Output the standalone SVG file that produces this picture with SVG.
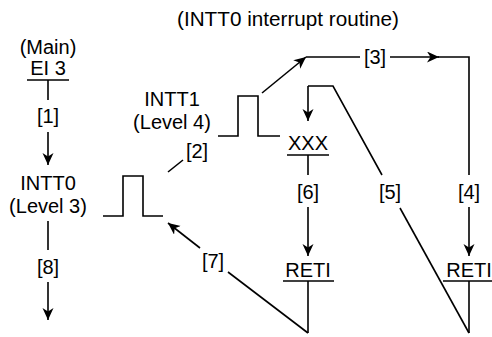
<svg xmlns="http://www.w3.org/2000/svg" width="492" height="337" viewBox="0 0 492 337">
<style>
  text { font-family: "Liberation Sans", Arial, sans-serif; font-size: 20px; fill: #000; text-anchor: middle; }
  .ttl { font-size: 20.7px; }
  .ln { stroke: #000; stroke-width: 1.6; fill: none; }
</style>
<defs>
  <marker id="arr" markerUnits="userSpaceOnUse" markerWidth="13" markerHeight="12" refX="12" refY="5.5" orient="auto" viewBox="0 0 13 12">
    <path d="M0,0 L12,5.5 L0,11 L3.5,5.5 z" fill="#000"/>
  </marker>
</defs>
<rect width="492" height="337" fill="#fff"/>

<g id="title"><text class="ttl" x="288" y="26">(INTT0 interrupt routine)</text></g>

<g id="main">
  <text x="48" y="54">(Main)</text>
  <text x="48" y="75">EI 3</text>
  <line class="ln" x1="27" y1="80" x2="69" y2="80"/>
</g>

<g id="intt0">
  <text x="48" y="190">INTT0</text>
  <text x="48" y="213">(Level 3)</text>
</g>

<g id="intt0-pulse">
  <polyline class="ln" points="103,216 123,216 123,176 143,176 143,216 163,216"/>
</g>

<g id="intt1">
  <text x="172" y="106">INTT1</text>
  <text x="172" y="129">(Level 4)</text>
</g>

<g id="intt1-pulse">
  <polyline class="ln" points="218,136 238,136 238,96 258,96 258,136 280,136"/>
</g>

<g id="xxx">
  <text x="308" y="150">XXX</text>
  <line class="ln" x1="287" y1="155" x2="329" y2="155"/>
</g>

<g id="reti1">
  <text x="308" y="277">RETI</text>
  <line class="ln" x1="283" y1="281" x2="334" y2="281"/>
</g>

<g id="reti2">
  <text x="469" y="277">RETI</text>
  <line class="ln" x1="443" y1="281" x2="495" y2="281"/>
</g>

<g id="connectors">
  <!-- [1] -->
  <line class="ln" x1="48" y1="80" x2="48" y2="100"/>
  <text x="48" y="123">[1]</text>
  <line class="ln" x1="48" y1="132" x2="48" y2="165" marker-end="url(#arr)"/>
  <!-- [8] -->
  <line class="ln" x1="48" y1="221" x2="48" y2="250"/>
  <text x="48" y="274">[8]</text>
  <line class="ln" x1="48" y1="282" x2="48" y2="320" marker-end="url(#arr)"/>
  <!-- [2] -->
  <line class="ln" x1="168" y1="172" x2="183" y2="160"/>
  <text x="197" y="158">[2]</text>
  <!-- [3] -->
  <line class="ln" x1="262" y1="93" x2="306" y2="57" marker-end="url(#arr)"/>
  <line class="ln" x1="306" y1="57" x2="360" y2="57"/>
  <text x="375" y="64">[3]</text>
  <line class="ln" x1="390" y1="57" x2="439" y2="57" marker-end="url(#arr)"/>
  <polyline class="ln" points="438,57 469,57 469,175"/>
  <!-- [4] -->
  <text x="469" y="199">[4]</text>
  <line class="ln" x1="469" y1="207" x2="469" y2="256" marker-end="url(#arr)"/>
  <line class="ln" x1="469" y1="281" x2="469" y2="333"/>
  <!-- [5] -->
  <line class="ln" x1="469" y1="333" x2="400" y2="208"/>
  <text x="390" y="199">[5]</text>
  <polyline class="ln" points="382,175 333,86 308,86"/>
  <line class="ln" x1="308" y1="86" x2="308" y2="121" marker-end="url(#arr)"/>
  <!-- [6] -->
  <line class="ln" x1="308" y1="155" x2="308" y2="175"/>
  <text x="308" y="199">[6]</text>
  <line class="ln" x1="308" y1="207" x2="308" y2="256" marker-end="url(#arr)"/>
  <line class="ln" x1="308" y1="281" x2="308" y2="333"/>
  <!-- [7] -->
  <line class="ln" x1="308" y1="333" x2="228" y2="272"/>
  <text x="213" y="268">[7]</text>
  <line class="ln" x1="200" y1="248" x2="168" y2="223" marker-end="url(#arr)"/>
</g>
</svg>
